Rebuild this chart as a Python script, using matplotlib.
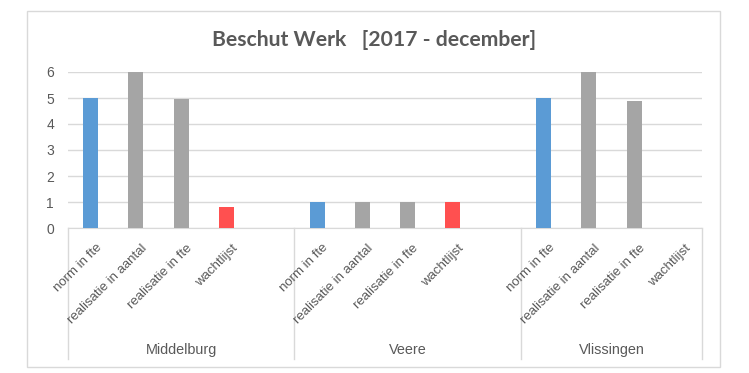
import matplotlib
matplotlib.use("Agg")
import matplotlib.pyplot as plt
from matplotlib.patches import Rectangle
from matplotlib.lines import Line2D

# Data
groups = ["Middelburg", "Veere", "Vlissingen"]
categories = ["norm in fte", "realisatie in aantal", "realisatie in fte", "wachtlijst"]
middelburg = [5, 6, 4.95, 0.8]
veere = [1, 1, 1, 1]
vlissingen = [5, 6, 4.9, 0]
values = [middelburg, veere, vlissingen]
bar_colors = ["#5B9BD5", "#A5A5A5", "#A5A5A5", "#FF5050"]
yticks = [0, 1, 2, 3, 4, 5, 6]

# each group gets 4 slots + one empty slot (not after the last group)
slots_per_group = [5, 5, 4]

W, H = 749, 373
fig = plt.figure(figsize=(W / 100, H / 100), dpi=100)
fig.patch.set_facecolor("white")

# chart border
fig.add_artist(Rectangle((27 / W, 1 - 367 / H), (720 - 27) / W, (367 - 11) / H,
                         transform=fig.transFigure, fill=False,
                         edgecolor="#D9D9D9", linewidth=1))

left, right, bottom, top = 68, 702, 228, 72
ax = fig.add_axes([left / W, 1 - bottom / H, (right - left) / W, (bottom - top) / H])

total_slots = sum(slots_per_group)
ax.set_xlim(0, total_slots)
ax.set_ylim(0, 6)

text_col = "#595959"
font = ["Liberation Sans", "DejaVu Sans"]

start = 0
xpos, labels = [], []
for g, name in enumerate(groups):
    for i, cat in enumerate(categories):
        x = start + i + 0.5
        ax.bar(x, values[g][i], width=0.33, color=bar_colors[i], zorder=3)
        xpos.append(x)
        labels.append(cat)
    start += slots_per_group[g]

ax.set_yticks(yticks)
ax.set_yticklabels([str(v) for v in yticks], fontsize=10, color=text_col, family=font)
ax.tick_params(axis="y", length=0, pad=10)
ax.grid(axis="y", color="#D9D9D9", linewidth=1, zorder=0)
for s in ["top", "right", "left"]:
    ax.spines[s].set_visible(False)
ax.spines["bottom"].set_color("#D9D9D9")
ax.set_xticks([])

# rotated category labels
for x, lab in zip(xpos, labels):
    ax.annotate(lab, xy=(x, 0), xycoords="data", xytext=(3.5, -10), textcoords="offset points",
                rotation=45, rotation_mode="anchor", ha="right", va="top",
                fontsize=9.5, color=text_col, family=font)

# group separators and group names
edges = [0]
for n in slots_per_group:
    edges.append(edges[-1] + n)
sep_bottom = -(359 - bottom) / (bottom - top) * 6
for e in edges:
    ax.add_line(Line2D([e, e], [0, sep_bottom], color="#D9D9D9", linewidth=1, clip_on=False))
label_y = -(350 - bottom) / (bottom - top) * 6
for g, name in enumerate(groups):
    mid = (edges[g] + edges[g + 1]) / 2
    ax.text(mid, label_y, name, ha="center", va="center", fontsize=10.4,
            color=text_col, family=font, clip_on=False)

fig.text(374 / W, 1 - 40 / H, "Beschut Werk   [2017 - december]", ha="center", va="center",
         fontsize=15.2, fontweight="bold", color=text_col,
         family=["Lato", "DejaVu Sans"])

fig.savefig("out.png", dpi=100)
